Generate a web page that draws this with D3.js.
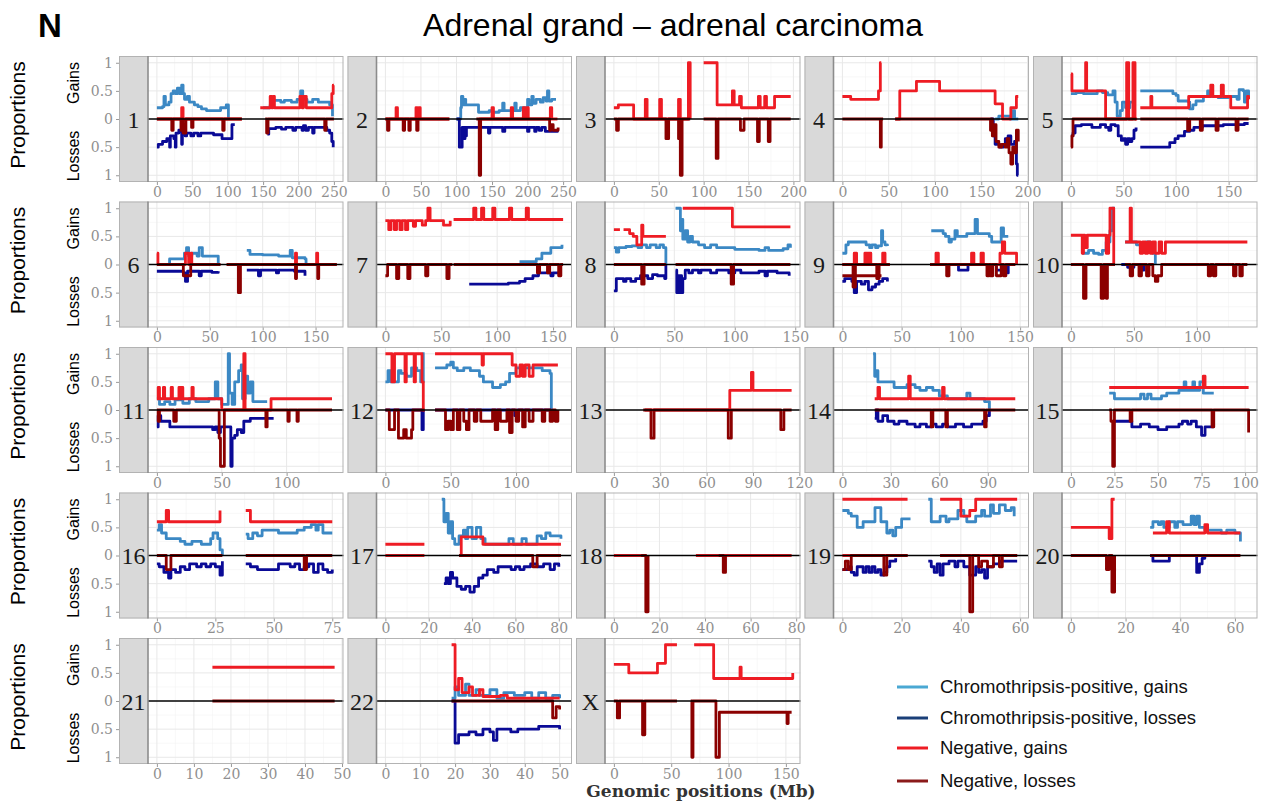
<!DOCTYPE html>
<html><head><meta charset="utf-8">
<script src="https://cdn.jsdelivr.net/npm/d3@7"></script>
<style>body{margin:0;background:#fff}</style>
</head><body><svg id="c" width="1261" height="801"></svg>
<script>
const chromosomes = ['1','2','3','4','5','6','7','8','9','10','11','12','13','14','15','16','17','18','19','20','21','22','X'];
const xMaxes = [251,250,198,192,169,168,159,147,150,141,137,136,115,110,102,76,82,78,60,65,48,51,155];
const tickSteps = [50,50,50,50,50,50,50,50,50,50,50,50,30,30,25,25,20,20,20,20,10,10,50];
const yTicks = [1,0.5,0,-0.5,-1];
const yTickLabels = ['1','0.5','0','0.5','1'];
const seriesNames = ['Chromothripsis-positive, gains','Chromothripsis-positive, losses','Negative, gains','Negative, losses'];

// Each entry: segments of [position (Mb), proportion] pairs (step lines)
const cpGains = [
 [[[0,0.2],[8,0.22],[10,0.4],[12,0.25],[17,0.3],[20,0.45],[23,0.5],[26,0.45],[29,0.55],[32,0.45],[35,0.6],[37,0.45],[39,0.35],[43,0.4],[46,0.3],[53,0.25],[58,0.22],[63,0.18],[70,0.15],[90,0.2],[98,0.25],[101,0.02]],[[150,0.2],[160,0.25],[164,0.33],[175,0.3],[180,0.33],[190,0.3],[198,0.35],[203,0.5],[206,0.35],[212,0.3],[220,0.35],[228,0.3],[244,0.25],[248,0.05]]],
 [[[100,0],[106,0.2],[107,0.4],[109,0.25],[111,0.35],[113,0.25],[128,0.25],[131,0.12],[146,0.15],[150,0.12],[160,0.15],[165,0.28],[167,0.15],[182,0.28],[184,0.15],[190,0.2],[200,0.35],[202,0.25],[206,0.4],[208,0.28],[212,0.35],[218,0.3],[222,0.38],[226,0.32],[228,0.5],[230,0.32],[234,0.35],[240,0.35]]],
 [],
 [[[165,0],[169,0.05],[181,0],[184,0.15],[186,0],[190,0]]],
 [[[0,0.45],[5,0.47],[12,0.45],[25,0.5],[30,0.47],[35,0.43],[40,0.5],[42,0.3],[44,0.05],[47,0.15],[49,0.3],[52,0.2],[56,0.3],[60,0.25]],[[66,0.5],[95,0.5],[97,0.45],[100,0.42],[102,0.32],[112,0.3],[113,0.18],[116,0.25],[119,0.32],[126,0.4],[130,0.5],[132,0.4],[140,0.38],[150,0.4],[158,0.35],[160,0.52],[164,0.5],[165,0.3],[167,0.5],[169,0.4]]],
 [[[10,0],[12,0.1],[24,0.1],[26,0.2],[28,0.3],[30,0.15],[33,0.2],[38,0.15],[40,0.3],[43,0.15],[56,0.15],[58,0]],[[85,0.25],[88,0.18],[100,0.17],[115,0.15],[125,0.15],[126,0.25],[128,0.12],[140,0.1],[141,0]]],
 [[[120,0.05],[135,0.1],[140,0.2],[148,0.3],[155,0.3],[158,0.35]]],
 [[[0,0.3],[2,0.22],[4,0.3],[10,0.32],[15,0.33],[20,0.3],[23,0.35],[27,0.3],[30,0.35],[35,0.3],[38,0.35],[41,0.3],[43,0]],[[51,1],[54,1],[55,0.6],[56,0.8],[57,0.45],[59,0.6],[61,0.4],[63,0.5],[65,0.4],[70,0.35],[75,0.3],[80,0.35],[85,0.3],[100,0.27],[120,0.25],[125,0.3],[128,0.25],[140,0.28],[144,0.35],[146,0.3]]],
 [[[0,0.2],[3,0.35],[5,0.4],[17,0.4],[20,0.35],[23,0.3],[25,0.35],[28,0.3],[30,0.33],[33,0.6],[34,0.4],[36,0.35],[38,0.33]],[[75,0.6],[85,0.55],[87,0.5],[90,0.4],[92,0.45],[95,0.6],[97,0.5],[105,0.55],[112,0.8],[114,0.55],[120,0.55],[124,0.5],[126,0.4],[132,0.4],[134,0.65],[136,0.5],[140,0.5]]],
 [[[9,0.2],[14,0.25],[18,0.2],[22,0.18],[25,0.25],[28,0.4],[31,0.6],[33,1],[35,1]],[[43,0.4],[48,0.4],[52,0.35],[60,0.4],[63,0.35],[65,0.2],[67,0]]],
 [[[0,0.2],[2,0.1],[6,0.15],[10,0.1],[14,0.18],[20,0.12],[25,0.2],[30,0.15],[40,0.2],[45,0.5],[47,0.2],[50,0.1],[55,1],[56,0.3],[58,0.1],[60,0.5],[63,0.7],[65,0.8],[66,0.2],[68,0.6],[70,0.3],[72,0.5],[74,0.15],[85,0.15]]],
 [[[0,0.5],[2,0.7],[4,0.5],[8,0.5],[10,0.7],[12,0.65],[16,0.6],[20,0.75],[24,0.7],[27,0.5],[29,1],[30,1]],[[38,0.75],[47,0.8],[50,0.85],[52,0.75],[55,0.7],[60,0.75],[65,0.7],[72,0.6],[75,0.5],[82,0.4],[88,0.45],[92,0.5],[95,0.65],[100,0.75],[115,0.75],[120,0.7],[126,0.65],[127,0]]],
 [],
 [[[19,1],[20,0.6],[21,0.7],[22,0.5],[30,0.5],[32,0.4],[40,0.45],[45,0.4],[48,0.35],[52,0.4],[56,0.35],[60,0.25],[65,0.2],[75,0.2],[77,0.3],[79,0.2],[88,0.15],[91,0]]],
 [[[22,0.3],[25,0.2],[38,0.2],[40,0.28],[42,0.2],[44,0.28],[46,0.2],[52,0.25],[55,0.3],[62,0.35],[65,0.5],[66,0.35],[70,0.5],[71,0.35],[74,0.5],[76,0.3],[82,0.3]]],
 [[[0,0.45],[1,0.55],[2,0.4],[4,0.3],[8,0.3],[10,0.25],[12,0.2],[15,0.25],[19,0.2],[23,0.3],[24,0.4],[26,0.3],[27,0.1],[28,0]],[[38,0.38],[39,0.3],[41,0.4],[43,0.35],[45,0.45],[52,0.4],[60,0.45],[63,0.5],[66,0.55],[68,0.45],[69,0.55],[71,0.4],[75,0.4]]],
 [[[26,1],[27,0.6],[28,0.75],[29,0.4],[30,0.6],[31,0.3],[32,0.2],[34,0.35],[36,0.45],[37,0.3],[38,0.5],[40,0.3],[42,0.5],[44,0.3],[46,0.2],[55,0.2],[57,0.3],[59,0.2],[63,0.3],[65,0.2],[70,0.35],[72,0.3],[74,0.4],[76,0.35],[80,0.35],[81,0.3]]],
 [],
 [[[0,0.8],[2,0.75],[3,0.7],[5,0.5],[7,0.6],[10,0.6],[11,0.85],[13,0.6],[15,0.4],[16,0.45],[17,0.35],[18,0.5],[20,0.65],[23,0.65]],[[29,1],[30,0.6],[33,0.7],[35,0.6],[36,0.65],[39,0.8],[41,0.7],[42,0.6],[45,0.7],[47,0.8],[48,0.7],[50,0.9],[51,0.75],[53,0.9],[55,0.8],[57,0.85],[58,0.7]]],
 [[[29,0.5],[30,0.6],[32,0.55],[33,0.6],[34,0.5],[36,0.6],[38,0.5],[39,0.6],[41,0.55],[44,0.7],[45,0.55],[46,0.7],[47,0.5],[49,0.45],[52,0.45],[55,0.4],[57,0.45],[60,0.4],[62,0.25]]],
 [],
 [[[19,0.05],[20,0.25],[21,0.1],[23,0.3],[24,0.1],[26,0.2],[27,0.1],[30,0.2],[32,0.05],[34,0.15],[37,0.1],[40,0.15],[42,0.05],[44,0.15],[46,0.05],[48,0.1],[50,0.05]]],
 []
];

const cpLosses = [
 [[[0,0.5],[2,0.45],[8,0.4],[14,0.35],[18,0.5],[19,0.3],[24,0.35],[26,0.5],[27,0.25],[31,0.2],[35,0.45],[36,0.2],[40,0.3],[42,0.25],[48,0.3],[52,0.25],[58,0.3],[62,0.25],[80,0.28],[92,0.35],[104,0.35],[106,0.1],[110,0.1]],[[156,0.27],[158,0.17],[168,0.15],[176,0.18],[182,0.15],[192,0.2],[196,0.15],[205,0.2],[207,0.12],[210,0.2],[214,0.15],[220,0.25],[222,0.15],[232,0.15],[240,0.2],[244,0.25],[247,0.4],[249,0.5]]],
 [[[100,0],[104,0.5],[108,0.15],[111,0.35],[112,0.15],[113,0.3],[114,0.15],[145,0.25],[147,0.15],[165,0.22],[168,0.15],[200,0.22],[202,0.15],[210,0.22],[212,0.15],[216,0.2],[220,0.15],[225,0.22],[242,0.2]]],
 [],
 [[[160,0],[163,0.3],[165,0.45],[170,0.5],[174,0.45],[176,0.35],[179,0.3],[182,0.45],[186,0.4],[188,0.8],[189,1],[190,1]]],
 [[[0,0.3],[2,0.25],[4,0.12],[10,0.1],[20,0.15],[28,0.1],[33,0.15],[36,0.2],[38,0.1],[42,0.12],[45,0.3],[48,0.38],[50,0.35],[52,0.45],[54,0.35],[56,0.4],[58,0.35],[60,0.2],[62,0.15]],[[66,0.5],[92,0.5],[94,0.42],[99,0.35],[102,0.3],[108,0.22],[113,0.2],[117,0.15],[125,0.12],[145,0.1],[165,0.08],[169,0.08]]],
 [[[0,0.12],[25,0.15],[27,0.3],[29,0.12],[40,0.2],[42,0.12],[52,0.14],[58,0.12]],[[85,0.1],[95,0.1],[96,0.2],[98,0.1],[112,0.1],[113,0.15],[115,0.1],[130,0.12],[140,0.2]]],
 [[[75,0.35],[110,0.33],[120,0.3],[125,0.25],[132,0.2],[137,0.15],[148,0.2],[150,0.15],[158,0.15]]],
 [[[0,0.47],[2,0.25],[5,0.25],[8,0.3],[10,0.25],[14,0.3],[18,0.25],[22,0.2],[28,0.25],[32,0.18],[36,0.2],[40,0.2],[42,0.25],[43,0]],[[51,0.1],[52,0.5],[53,0.2],[54,0.5],[55,0.2],[56,0.5],[57,0.25],[59,0.1],[62,0.15],[65,0.1],[70,0.15],[72,0.1],[80,0.15],[85,0.1],[95,0.15],[100,0.1],[105,0.15],[120,0.12],[125,0.2],[127,0.12],[135,0.15],[145,0.2]]],
 [[[0,0.3],[2,0.25],[8,0.3],[10,0.5],[12,0.3],[16,0.35],[19,0.3],[22,0.45],[25,0.4],[28,0.35],[31,0.3],[34,0.25],[38,0.3]],[[75,0],[98,0.1],[106,0],[128,0],[130,0.1],[136,0.15],[140,0]]],
 [[[40,0],[45,0.05],[50,0],[56,0.1],[58,0]]],
 [[[0,0.3],[1,0.1],[3,0.2],[10,0.3],[42,0.3],[43,0.35],[45,0.3],[47,0.4],[49,0.3],[57,1],[58,0.5],[60,0.45],[62,0.35],[65,0.4],[67,0.2],[72,0.15],[90,0.15]]],
 [[[0,0],[27,0],[28,0.35],[29,0]],[[38,0],[98,0],[99,0.1],[101,0],[127,0]]],
 [],
 [[[20,0.15],[21,0],[22,0.2],[25,0.1],[28,0.2],[32,0.25],[35,0.2],[40,0.25],[45,0.3],[48,0.25],[52,0.3],[55,0.25],[58,0.3],[62,0.25],[65,0.3],[70,0.25],[75,0.3],[80,0.25],[87,0.2],[89,0.1],[91,0]]],
 [[[24,0.2],[35,0.3],[40,0.25],[45,0.3],[50,0.35],[55,0.3],[62,0.25],[64,0.2],[67,0.25],[69,0.2],[72,0.3],[75,0.45],[77,0.3],[82,0.3]]],
 [[[0,0.15],[1,0.2],[3,0.3],[5,0.4],[6,0.25],[8,0.3],[10,0.2],[12,0.25],[14,0.15],[17,0.2],[19,0.15],[21,0.2],[23,0.15],[25,0.2],[27,0.35],[28,0.1]],[[38,0.15],[40,0.2],[43,0.25],[50,0.25],[52,0.15],[57,0.2],[59,0.15],[61,0.25],[63,0.2],[65,0.15],[67,0.3],[69,0.15],[71,0.25],[73,0.3],[75,0.25]]],
 [[[27,0.5],[28,0.4],[29,0.5],[30,0.3],[31,0.4],[33,0.55],[35,0.6],[37,0.55],[39,0.65],[41,0.55],[43,0.4],[45,0.35],[47,0.25],[50,0.3],[52,0.2],[58,0.25],[60,0.2],[62,0.25],[64,0.2],[67,0.15],[70,0.2],[73,0.15],[76,0.25],[78,0.15],[80,0.2]]],
 [],
 [[[0,0.25],[2,0.2],[3,0.3],[4,0.35],[5,0.2],[7,0.3],[8,0.2],[9,0.3],[10,0.2],[11,0.3],[12,0.25],[13,0.35],[14,0.3],[15,0.2],[16,0.1],[18,0.05]],[[29,0.1],[30,0.2],[31,0.3],[32,0.15],[33,0.35],[34,0.15],[36,0.1],[38,0.2],[39,0.1],[41,0.2],[43,0.35],[45,0.2],[46,0.3],[47,0.25],[48,0.4],[49,0.2],[51,0.15],[53,0.1],[59,0.1]]],
 [[[29,0],[30,0.1],[35,0.1],[36,0],[44,0],[46,0.3],[47,0.15],[48,0.05],[49,0]]],
 [],
 [[[19,0],[20,0.75],[21,0.6],[24,0.55],[26,0.6],[28,0.5],[30,0.55],[31,0.7],[32,0.5],[36,0.55],[38,0.5],[42,0.5],[44,0.45],[48,0.45],[50,0.5]]],
 []
];

const negGains = [
 [[[0,0],[34,0],[35,0.2],[37,0],[120,0]],[[146,0.2],[160,0.4],[162,0.2],[164,0.4],[166,0.2],[202,0.4],[205,0.2],[207,0.4],[211,0.2],[245,0.2],[247,0.45],[249,0.6],[250,0.6]]],
 [[[0,0],[14,0],[15,0.2],[17,0],[42,0],[43,0.2],[45,0],[47,0.2],[49,0],[90,0]],[[132,0],[150,0.2],[152,0],[177,0.2],[179,0],[194,0.2],[196,0],[199,0.2],[201,0],[232,0.2],[234,0],[242,0]]],
 [[[0,0.2],[5,0.25],[22,0],[34,0],[35,0.35],[37,0],[51,0.35],[53,0],[72,0.35],[74,0],[82,0],[83,1],[85,0]],[[100,1],[110,1],[115,0.25],[131,0.25],[132,0.5],[134,0.25],[140,0.4],[142,0.2],[161,0.4],[163,0.2],[168,0.4],[170,0.2],[177,0.2],[179,0.4],[197,0.4]]],
 [[[0,0.4],[8,0.4],[9,0.35],[38,0.35],[39,0.5],[41,1],[42,1]],[[57,0],[62,0.5],[78,0.5],[80,0.67],[103,0.67],[105,0.5],[163,0.5],[165,0.27],[171,0.27],[173,0],[181,0],[182,0.2],[186,0.2],[188,0.4],[190,0.4]]],
 [[[0,0.8],[1,0.5],[13,0.5],[14,1],[15,0.5],[31,0.5],[33,0],[52,0],[53,1],[55,0],[58,0],[59,1],[61,0],[63,0]],[[66,0.2],[75,0.2],[76,0.4],[77,0.2],[110,0.2],[112,0.4],[132,0.4],[133,0.6],[135,0.4],[142,0.4],[143,0.6],[145,0.4],[150,0.4],[152,0.2],[167,0.2],[168,0.4],[169,0.35]]],
 [[[0,0.2],[1,0],[26,0],[27,0.2],[30,0],[32,0.2],[33,0],[60,0]],[[66,0],[130,0],[131,0.2],[132,0],[150,0],[151,0.2],[152,0],[170,0]]],
 [[[0,0.78],[3,0.62],[5,0.78],[8,0.62],[10,0.78],[13,0.62],[15,0.78],[18,0.62],[20,0.78],[25,0.68],[27,0.78],[33,0.7],[36,0.78],[38,1],[40,0.78],[50,0.78],[52,0.7],[58,0.78]],[[61,0.8],[77,0.8],[79,1],[81,0.8],[85,0.8],[86,1],[88,0.8],[96,1],[98,0.8],[110,0.8],[111,1],[113,0.8],[125,0.8],[126,1],[128,0.8],[159,0.8]]],
 [[[0,0.62],[5,0.62]],[[8,0.62],[13,0.55],[16,0.5],[19,0.35],[22,0.35],[23,0.7],[24,0.5],[43,0.5]],[[57,1],[97,1],[98,0.67],[146,0.67]]],
 [[[0,0],[10,0.2],[12,0],[19,0.2],[21,0],[22,0.2],[24,0],[34,0.2],[36,0],[40,0]],[[74,0],[79,0.2],[81,0],[109,0.2],[111,0],[117,0.2],[119,0],[131,0],[133,0.2],[135,0.4],[137,0.2],[146,0.2],[147,0]]],
 [[[0,0.52],[7,0.52],[9,0.2],[10,0.52],[11,0.3],[13,0.52],[27,0.52],[28,0.2],[30,0.52],[31,1],[33,1],[34,0]],[[43,0.4],[46,0.4],[47,1],[48,0.4],[53,0.4],[55,0.2],[57,0.4],[59,0.2],[61,0.4],[63,0.2],[65,0.4],[67,0.2],[70,0.4],[72,0.2],[75,0.4],[140,0.4]]],
 [[[0,0.2],[1,0.4],[2,0.2],[5,0.4],[6,0.2],[11,0.4],[12,0.2],[17,0.4],[18,0.2],[19,0.4],[20,0.2],[27,0.4],[28,0.2],[49,0.2],[50,0],[66,0],[67,1],[68,0],[87,0],[88,0.2],[135,0.2]]],
 [[[0,1],[4,1],[5,0.5],[7,1],[14,1],[15,0.5],[16,1],[21,1],[22,0.5],[23,1],[27,1],[28,0.5],[29,0],[30,0]],[[38,1],[73,1],[74,0.8],[75,1],[96,1],[97,0.8],[100,0.6],[103,0.8],[105,0.6],[107,0.8],[110,0.6],[113,0.8],[132,0.8]]],
 [[[20,0],[73,0],[75,0.35],[88,0.35],[89,0.67],[90,0.35],[115,0.35]]],
 [[[20,0.2],[22,0.4],[23,0.2],[41,0.6],[42,0.2],[62,0.4],[63,0.2],[107,0.2]]],
 [[[22,0.4],[75,0.4],[76,0.6],[77,0.4],[102,0.4]]],
 [[[0,0.6],[3,0.6],[4,0.8],[5,0.6],[26,0.6],[27,0.8]],[[38,0.8],[40,0.6],[75,0.6]]],
 [[[0,0.2],[18,0.2]],[[0,0],[18,0]],[[34,0],[35,0.33],[43,0.33],[45,0.2],[81,0.2]]],
 [[[0,0],[14,0]],[[36,0],[78,0]]],
 [[[0,1],[22,1]],[[33,1],[39,1],[40,0.7],[42,0.7],[43,0.8],[45,1],[59,1]],[[0,0],[22,0]],[[33,0],[59,0]]],
 [[[0,0.5],[13,0.5],[14,0.3],[15,1],[16,1]],[[30,0.4],[34,0.4],[35,0.6],[36,0.4],[48,0.4],[49,0.55],[50,0.4],[62,0.4]]],
 [[[15,0.6],[48,0.6]]],
 [[[19,1],[20,0.2],[21,0.4],[22,0.15],[24,0.25],[25,0.1],[27,0.2],[28,0.08],[33,0.1],[35,0.05],[50,0.05]]],
 [[[0,0.65],[12,0.65],[13,0.5],[37,0.5],[38,0.67],[44,0.67],[45,1],[55,1]],[[70,1],[85,1],[87,0.4],[109,0.4],[110,0.6],[111,0.4],[155,0.4],[156,0.5]]]
];

const negLosses = [
 [[[0,0],[21,0.2],[23,0],[34,0.2],[36,0],[37,0.25],[39,0.1],[40,0.25],[41,0],[49,0.15],[51,0],[93,0.2],[95,0],[120,0]],[[153,0],[155,0.25],[157,0],[236,0],[237,0.2],[239,0],[250,0]]],
 [[[0,0],[3,0.2],[5,0],[25,0.2],[27,0],[33,0.2],[35,0],[44,0.2],[46,0],[90,0]],[[128,0],[132,1],[134,0],[230,0],[231,0.2],[233,0.1],[236,0.2],[243,0.15]]],
 [[[0,0],[3,0.2],[5,0],[58,0.35],[61,0],[72,0.35],[73,0],[74,1],[76,0],[85,0]],[[100,0],[114,0.7],[116,0],[141,0.2],[145,0],[160,0.4],[162,0],[172,0.4],[174,0],[197,0]]],
 [[[0,0],[40,0],[41,0.5],[42,0],[44,0]],[[57,0],[158,0],[160,0.2],[161,0],[162,0.3],[164,0.1],[166,0.4],[169,0.5],[172,0.45],[176,0.5],[178,0.35],[180,0.6],[182,0.8],[184,0.5],[186,0.6],[188,0.2],[190,0.4]]],
 [[[0,0.5],[1,0.3],[2,0],[62,0]],[[66,0],[110,0],[111,0.2],[113,0],[123,0.2],[125,0],[138,0.2],[140,0],[157,0.2],[159,0],[169,0]]],
 [[[0,0],[25,0.2],[32,0],[60,0]],[[66,0],[77,0.5],[79,0],[130,0],[131,0.25],[132,0],[152,0.25],[153,0],[170,0]]],
 [[[0,0.2],[2,0],[10,0.25],[12,0],[20,0.25],[22,0],[36,0.2],[38,0],[55,0.25],[57,0],[60,0]],[[61,0],[135,0],[136,0.15],[138,0],[145,0.15],[147,0],[155,0.2],[157,0],[159,0]]],
 [[[0,0],[22,0],[23,0.35],[25,0],[43,0]],[[51,0],[96,0],[97,0.35],[99,0],[146,0]]],
 [[[0,0.2],[33,0.2]],[[0,0],[9,0.4],[11,0],[28,0],[29,0.25],[31,0],[40,0]],[[74,0],[88,0.2],[90,0],[120,0],[122,0.2],[124,0],[125,0.2],[127,0],[130,0.2],[132,0.2],[134,0],[136,0.2],[138,0],[146,0]]],
 [[[0,0],[10,0.6],[12,0],[22,0],[24,0.6],[26,0],[28,0.6],[29,0],[35,0]],[[43,0],[47,0.2],[49,0],[54,0.2],[56,0],[60,0.2],[62,0],[65,0.2],[67,0.3],[69,0.2],[72,0],[108,0],[109,0.2],[111,0],[113,0.2],[115,0],[128,0],[129,0.2],[131,0],[134,0.2],[136,0],[140,0]]],
 [[[0,0],[1,0.2],[2,0],[13,0.2],[15,0],[47,0],[48,0.5],[49,1],[51,1],[52,0],[83,0],[84,0.3],[85,0],[100,0],[101,0.2],[102,0],[108,0.2],[109,0],[135,0]]],
 [[[0,0],[3,0.35],[6,0.35],[7,0],[10,0.5],[13,0.5],[14,0.35],[16,0.5],[19,0.5],[20,0.35],[21,0],[30,0]],[[38,0],[46,0.35],[48,0.2],[50,0.35],[52,0],[55,0.35],[57,0],[60,0.2],[62,0.35],[64,0],[68,0.2],[70,0],[73,0.2],[80,0.2],[82,0],[84,0.35],[86,0],[88,0.2],[90,0.2],[93,0],[95,0.4],[97,0],[100,0.2],[102,0],[105,0.3],[107,0],[110,0.2],[113,0],[120,0.2],[122,0],[126,0.2],[128,0],[130,0.2],[132,0]]],
 [[[19,0],[24,0.5],[26,0],[73,0],[74,0.5],[76,0],[107,0],[108,0.35],[110,0],[115,0]]],
 [[[20,0],[53,0],[55,0.3],[56,0],[62,0],[64,0.3],[65,0],[86,0],[88,0.3],[89,0],[107,0]]],
 [[[22,0],[23,0.2],[24,1],[25,0],[34,0.2],[35,0],[80,0],[81,0.3],[82,0],[101,0],[102,0.4]]],
 [[[0,0],[4,0.25],[6,0],[28,0]],[[38,0],[62,0],[63,0.25],[64,0],[75,0]]],
 [[[34,0],[67,0],[68,0.2],[70,0],[81,0]]],
 [[[12,0],[14,1],[15,0]],[[46,0],[48,0.3],[49,0]]],
 [[[0,0.25],[1,0.1],[2,0.25],[3,0],[13,0],[14,0.35],[15,0],[22,0]],[[33,0],[42,0],[43,1],[44,0],[46,0.2],[47,0.1],[49,0.2],[51,0],[53,0.2],[54,0],[59,0]]],
 [[[0,0],[12,0],[13,0.25],[14,0],[15,0.65],[16,0]],[[29,0],[62,0]]],
 [[[15,0],[48,0]]],
 [[[19,0],[47,0],[48,0.3],[49,0.1],[50,0.15]]],
 [[[0,0],[3,0.3],[5,0],[24,0],[25,0.6],[27,0],[55,0]],[[67,0],[68,1],[69,0],[88,0],[89,1],[91,1],[92,0.2],[150,0.2],[151,0.4],[152,0.2],[155,0.2]]]
];

const seriesColors = ['#3b88c4','#0a0a96','#ee1c24','#8b0000'];
const legendColors = ['#4aa8d3','#1a3f78','#ee1c24','#8b1a1a'];

const svg = d3.select('#c');
const stripW = 29, plotW = 195.5, panelH = 126;
const colStep = 228.5, rowStep = 145.5, left0 = 119, top0 = 56;
const tickFont = 'DejaVu Serif';

svg.append('text').attr('x',38).attr('y',37).attr('font-family','Liberation Sans, Arial').attr('font-weight','bold').attr('font-size',33).text('N');
svg.append('text').attr('x',673).attr('y',36).attr('text-anchor','middle').attr('font-family','Liberation Sans, Arial').attr('font-size',32).text('Adrenal grand – adrenal carcinoma');

const defs = svg.append('defs');

chromosomes.forEach((chr,i)=>{
  const r = Math.floor(i/5), c = i%5;
  const sx = left0 + c*colStep, top = top0 + r*rowStep;
  const px = sx + stripW;
  const L = xMaxes[i];
  const x = d3.scaleLinear().domain([-0.05*L, 1.05*L]).range([px, px+plotW]);
  const y = d3.scaleLinear().domain([-1.12, 1.12]).range([top+panelH, top]);
  const g = svg.append('g');
  g.append('rect').attr('x',sx).attr('y',top).attr('width',stripW).attr('height',panelH).attr('fill','#d9d9d9');
  g.append('rect').attr('x',px).attr('y',top).attr('width',plotW).attr('height',panelH).attr('fill','#fff');
  const step = tickSteps[i];
  const majors = d3.range(0, 1.05*L + 1e-6, step);
  const minors = d3.range(-step/2, 1.05*L, step).filter(v => v >= -0.05*L);
  minors.forEach(v => g.append('line').attr('x1',x(v)).attr('x2',x(v)).attr('y1',top).attr('y2',top+panelH).attr('stroke','#f3f3f3').attr('stroke-width',0.6));
  [-0.75,-0.25,0.25,0.75].forEach(v => g.append('line').attr('x1',px).attr('x2',px+plotW).attr('y1',y(v)).attr('y2',y(v)).attr('stroke','#f3f3f3').attr('stroke-width',0.6));
  majors.forEach(v => g.append('line').attr('x1',x(v)).attr('x2',x(v)).attr('y1',top).attr('y2',top+panelH).attr('stroke','#e8e8e8').attr('stroke-width',1));
  [-1,-0.5,0.5,1].forEach(v => g.append('line').attr('x1',px).attr('x2',px+plotW).attr('y1',y(v)).attr('y2',y(v)).attr('stroke','#e8e8e8').attr('stroke-width',1));

  defs.append('clipPath').attr('id','clip'+i).append('rect').attr('x',px).attr('y',top).attr('width',plotW).attr('height',panelH);
  const lg = g.append('g').attr('clip-path','url(#clip'+i+')');
  const mk = sign => d3.line().x(d=>x(d[0])).y(d=>y(sign*d[1])).curve(d3.curveStepAfter);
  const groups = [[cpGains,1],[cpLosses,-1],[negGains,1],[negLosses,-1]];
  groups.forEach(([arr,sign],k)=>{
    (arr[i]||[]).forEach(seg=>{
      lg.append('path').attr('d',mk(sign)(seg)).attr('fill','none').attr('stroke',seriesColors[k]).attr('stroke-width',2.8).attr('stroke-linejoin','round').attr('stroke-linecap','butt');
    });
  });
  g.append('line').attr('x1',px).attr('x2',px+plotW).attr('y1',y(0)).attr('y2',y(0)).attr('stroke','#000').attr('stroke-width',1.6);

  g.append('rect').attr('x',sx+0.5).attr('y',top+0.5).attr('width',stripW+plotW-1).attr('height',panelH-1).attr('fill','none').attr('stroke','#b3b3b3').attr('stroke-width',1);
  g.append('line').attr('x1',px).attr('x2',px).attr('y1',top).attr('y2',top+panelH).attr('stroke','#8c8c8c').attr('stroke-width',1.6);

  g.append('text').attr('x',sx+stripW/2).attr('y',y(0)+8.5).attr('text-anchor','middle').attr('font-family','Liberation Serif, Times New Roman, serif').attr('font-size',24).attr('fill','#1a1a1a').text(chr);

  const xa = g.append('g').attr('transform',`translate(0,${top+panelH})`).call(d3.axisBottom(x).tickValues(majors).tickSize(3).tickPadding(2).tickFormat(d3.format('d')));
  xa.select('.domain').remove();
  xa.selectAll('line').attr('stroke','#999');
  xa.selectAll('text').attr('fill','#8f8f8f').attr('font-family',tickFont).attr('font-size',14);

  if (c === 0) {
    const ya = g.append('g').attr('transform',`translate(${sx},0)`).call(d3.axisLeft(y).tickValues(yTicks).tickSize(3).tickPadding(3).tickFormat((d,k)=>yTickLabels[k]));
    ya.select('.domain').remove();
    ya.selectAll('line').attr('stroke','#999');
    ya.selectAll('text').attr('fill','#8f8f8f').attr('font-family',tickFont).attr('font-size',14);
    svg.append('text').attr('transform',`translate(25,${top+59}) rotate(-90)`).attr('text-anchor','middle').attr('font-family','Liberation Sans, Arial').attr('font-size',21).text('Proportions');
    svg.append('text').attr('transform',`translate(79,${top+27}) rotate(-90)`).attr('text-anchor','middle').attr('font-family','Liberation Sans, Arial').attr('font-size',16).text('Gains');
    svg.append('text').attr('transform',`translate(79,${top+100}) rotate(-90)`).attr('text-anchor','middle').attr('font-family','Liberation Sans, Arial').attr('font-size',16).text('Losses');
  }
});

svg.append('text').attr('x',701).attr('y',797).attr('text-anchor','middle').attr('font-family','DejaVu Serif, serif').attr('font-weight','bold').attr('font-size',17).attr('fill','#333').text('Genomic positions (Mb)');

const legendY = [687,718,748,781];
seriesNames.forEach((n,k)=>{
  svg.append('line').attr('x1',897).attr('x2',928).attr('y1',legendY[k]).attr('y2',legendY[k]).attr('stroke',legendColors[k]).attr('stroke-width',3);
  svg.append('text').attr('x',940).attr('y',legendY[k]).attr('dy','0.35em').attr('font-family','Liberation Sans, Arial').attr('font-size',18.5).attr('fill','#111').text(n);
});
</script>
</body></html>
